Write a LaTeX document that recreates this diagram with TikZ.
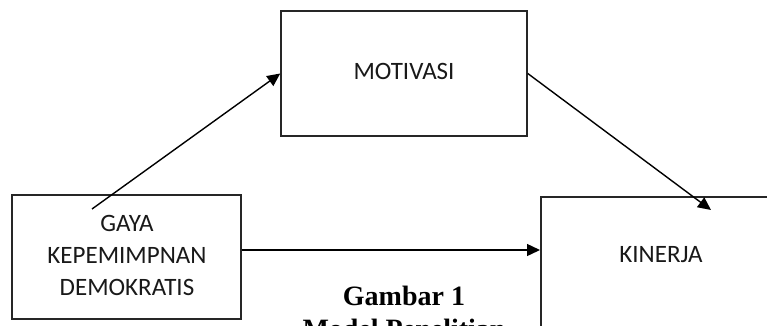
\documentclass[tikz,border=0pt]{standalone}
\usepackage{fontspec}
\setmainfont{Carlito}
\newfontfamily\tnr{Liberation Serif}
\usetikzlibrary{arrows.meta}
\tikzset{
  box/.style={draw=black!85, line width=1.5pt, rectangle, inner sep=0pt},
  lbl/.style={font=\fontsize{25}{32}\selectfont, text=black!90, align=center, inner sep=0pt},
  arr/.style={line width=1.4pt, -{Triangle[length=13pt,width=12pt]}},
  captext/.style={font=\tnr\bfseries\fontsize{28}{33}\selectfont, inner sep=0pt, anchor=base}
}
\begin{document}
\begin{tikzpicture}[x=1pt,y=-1pt]
\useasboundingbox (0,0) rectangle (767,326);
\clip (0,0) rectangle (767,326);
\fill[white] (0,0) rectangle (767,326);
% boxes
\node[box, minimum width=246pt, minimum height=125pt] (mot) at (404,73.5) {};
\node[lbl] (motl) at (404,71) {MOTIVASI};
\node[box, minimum width=229pt, minimum height=124pt] (gaya) at (126.5,257) {};
\node[lbl] (gayal) at (127,255) {GAYA\\KEPEMIMPNAN\\DEMOKRATIS};
\node[box, minimum width=242pt, minimum height=260pt, anchor=north west] (kin) at (540,196) {};
\node[lbl] (kinl) at (661,255) {KINERJA};
% coordinates
\coordinate (gs) at (92,209);
\coordinate (kt) at (711,210);
% arrows
\draw[arr] (gs) -- (mot.west);
\draw[arr] ([yshift=7pt]gaya.east) -- ([yshift=7pt]gaya.east -| kin.west);
\draw[arr] (mot.east) -- (kt);
% caption (second line is cut off at the lower edge, as in the reference)
\node[captext] (c1) at (404,305) {Gambar 1};
\node[captext] (c2) at (404,338) {Model Penelitian};
\end{tikzpicture}
\end{document}
